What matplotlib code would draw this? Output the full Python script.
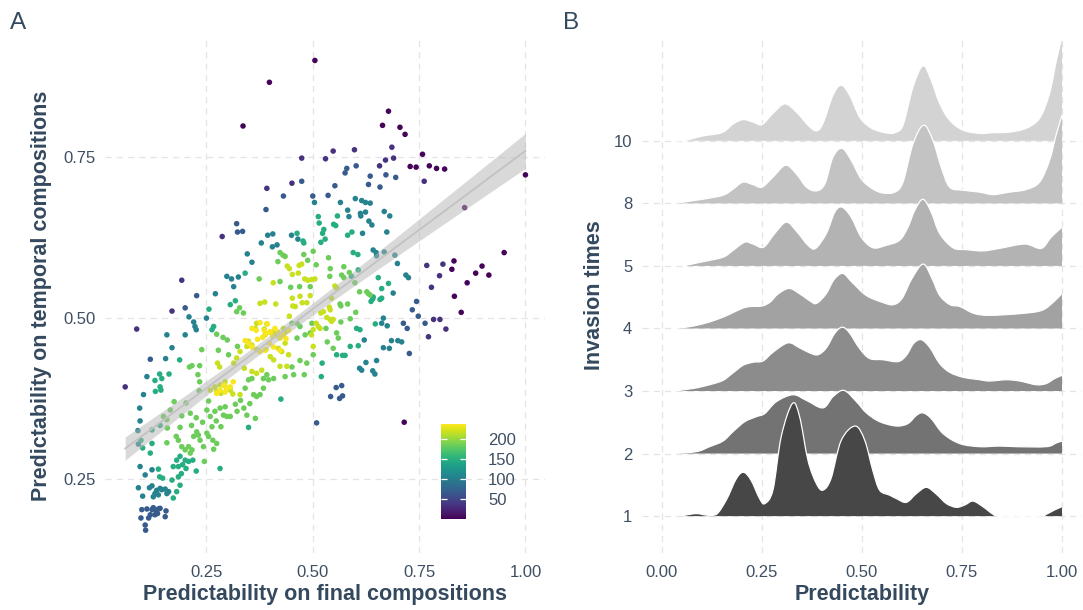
import numpy as np
import matplotlib.pyplot as plt
from matplotlib.colors import Normalize
from matplotlib.cm import ScalarMappable
from matplotlib.path import Path
from matplotlib.patches import PathPatch

plt.rcParams['font.family'] = ['Liberation Sans', 'DejaVu Sans']

TITLE_C = '#34495e'
TICK_C = '#3f4f63'
GRID_C = '#e4e4e4'

# ---------------- panel A data: points grouped by their colour value ----------------
pts_purple = [(.398, .867), (.336, .799), (.505, .901), (.678, .822), (.664, .800), (.705, .797),
              (.717, .786), (.758, .755), (.729, .736), (.743, .735), (.774, .737), (.791, .733),
              (.810, .732), (.857, .672), (.950, .602), (1.0, .723), (.832, .589), (.827, .576),
              (.863, .555), (.883, .570), (.898, .581), (.914, .567), (.833, .534), (.849, .509),
              (.715, .338)]
pts_indigo = [(.474, .749), (.392, .702), (.451, .710), (.287, .627), (.192, .559), (.686, .766),
              (.548, .760), (.598, .762), (.530, .748), (.671, .746), (.690, .749), (.657, .737),
              (.762, .713), (.768, .582), (.806, .584), (.798, .566), (.779, .548), (.784, .498),
              (.799, .498), (.813, .483), (.772, .471), (.169, .511), (.086, .483), (.059, .393)]
pts_blue = [(.474, .713), (.431, .690), (.390, .669), (.321, .647), (.323, .634), (.335, .635),
            (.602, .737), (.580, .733), (.576, .726), (.635, .721), (.672, .723), (.695, .719),
            (.552, .706), (.631, .708), (.658, .704), (.500, .690), (.536, .691), (.744, .526),
            (.734, .513), (.748, .503), (.764, .492), (.713, .492), (.722, .484), (.727, .445),
            (.555, .392), (.568, .395), (.542, .378), (.563, .375), (.570, .379), (.509, .337),
            (.227, .535), (.200, .516), (.118, .436), (.098, .202), (.110, .203), (.122, .202),
            (.125, .205), (.132, .200), (.137, .203), (.141, .204), (.129, .194), (.135, .196),
            (.155, .200), (.153, .191), (.096, .189), (.106, .178), (.114, .189), (.118, .194),
            (.107, .170)]
pts_teal = [(.394, .629), (.406, .631), (.450, .629), (.465, .623), (.379, .617), (.405, .611),
            (.416, .614), (.346, .600), (.357, .587), (.298, .565), (.309, .561), (.325, .564),
            (.504, .680), (.565, .680), (.600, .686), (.615, .683), (.624, .680), (.635, .679),
            (.668, .666), (.681, .659), (.582, .668), (.585, .658), (.612, .663), (.613, .659),
            (.624, .665), (.632, .651), (.639, .645), (.674, .634), (.617, .632), (.642, .606),
            (.649, .602), (.650, .597), (.668, .603), (.693, .598), (.699, .585), (.719, .567),
            (.725, .563), (.689, .539), (.666, .500), (.662, .492), (.675, .488), (.621, .466),
            (.685, .465), (.700, .465), (.709, .463), (.666, .454), (.680, .453), (.650, .434),
            (.625, .431), (.610, .422), (.615, .419), (.641, .418), (.646, .413), (.314, .549),
            (.271, .538), (.209, .502), (.250, .500), (.220, .494), (.223, .487), (.226, .482),
            (.157, .474), (.200, .474), (.169, .454), (.154, .437), (.110, .409), (.102, .381),
            (.093, .360), (.094, .340), (.089, .325), (.090, .304), (.122, .264), (.094, .269),
            (.106, .256), (.090, .236), (.100, .223), (.116, .236), (.122, .239), (.125, .222),
            (.129, .227), (.133, .232), (.137, .225), (.141, .235), (.145, .233), (.153, .234),
            (.157, .227), (.161, .230)]
pts_green = [(.463, .632), (.477, .620), (.479, .617), (.341, .570), (.513, .658), (.515, .648),
             (.558, .659), (.549, .646), (.554, .644), (.526, .638), (.523, .632), (.529, .623),
             (.519, .618), (.592, .634), (.582, .629), (.595, .602), (.606, .599), (.654, .563),
             (.678, .554), (.591, .565), (.607, .575), (.662, .546), (.658, .529), (.662, .531),
             (.637, .526), (.641, .530), (.642, .533), (.647, .491), (.556, .443), (.570, .442),
             (.576, .442), (.588, .456), (.603, .484), (.611, .482), (.607, .457), (.522, .430),
             (.520, .409), (.318, .527), (.306, .521), (.256, .514), (.263, .482), (.267, .487),
             (.187, .435), (.140, .413), (.145, .406), (.162, .413), (.129, .403), (.141, .393),
             (.143, .388), (.130, .386), (.141, .333), (.122, .326), (.349, .330), (.425, .374),
             (.096, .310), (.122, .305), (.100, .298), (.180, .279), (.188, .285), (.200, .279),
             (.208, .277), (.194, .272), (.184, .269), (.172, .269), (.202, .266), (.218, .279),
             (.226, .262), (.282, .266), (.118, .290), (.137, .265), (.140, .253), (.147, .251),
             (.169, .248), (.172, .220), (.180, .230), (.188, .240), (.184, .253), (.191, .258)]
pts_lime = [(.423, .602), (.430, .598), (.435, .596), (.418, .588), (.479, .599), (.488, .590),
            (.374, .561), (.423, .557), (.501, .604), (.537, .594), (.573, .580), (.541, .577),
            (.508, .583), (.540, .565), (.586, .571), (.568, .567), (.573, .563), (.599, .555),
            (.627, .541), (.631, .538), (.635, .536), (.610, .541), (.601, .509), (.588, .499),
            (.582, .522), (.564, .522), (.566, .519), (.566, .494), (.531, .484), (.556, .477),
            (.560, .469), (.534, .463), (.548, .453), (.501, .443), (.448, .548), (.469, .549),
            (.494, .549), (.328, .516), (.337, .508), (.321, .510), (.274, .475), (.289, .470),
            (.299, .466), (.451, .492), (.463, .492), (.470, .487), (.482, .474), (.494, .477),
            (.498, .492), (.323, .456), (.239, .451), (.278, .450), (.302, .443), (.216, .426),
            (.210, .424), (.234, .426), (.463, .469), (.470, .434), (.486, .430), (.451, .424),
            (.392, .412), (.384, .406), (.230, .412), (.234, .401), (.233, .387), (.341, .391),
            (.349, .404), (.357, .406), (.361, .381), (.368, .378), (.376, .381), (.384, .391),
            (.396, .404), (.408, .406), (.435, .409), (.455, .412), (.480, .412), (.174, .370),
            (.165, .357), (.149, .347), (.157, .342), (.158, .329), (.202, .368), (.212, .352),
            (.192, .348), (.188, .330), (.255, .371), (.251, .357), (.259, .347), (.270, .355),
            (.282, .360), (.294, .362), (.290, .349), (.298, .347), (.306, .347), (.284, .331),
            (.263, .331), (.273, .340), (.345, .349), (.365, .344), (.184, .310), (.179, .316),
            (.157, .306), (.192, .300), (.200, .295), (.208, .300), (.216, .295), (.212, .290),
            (.220, .316), (.227, .323), (.231, .318), (.235, .310), (.251, .321), (.255, .316),
            (.265, .310), (.274, .305), (.267, .296), (.243, .300), (.245, .277), (.318, .366),
            (.330, .372), (.338, .360), (.352, .367), (.322, .355), (.241, .338), (.226, .345),
            (.215, .333)]
pts_yellow = [(.440, .581), (.445, .577), (.468, .582), (.474, .584), (.452, .568), (.466, .570),
              (.481, .561), (.488, .559), (.407, .555), (.497, .560), (.505, .561), (.552, .550),
              (.556, .547), (.544, .531), (.539, .517), (.541, .513), (.519, .508), (.525, .510),
              (.533, .501), (.541, .498), (.548, .498), (.544, .495), (.508, .492), (.513, .487),
              (.517, .484), (.501, .482), (.497, .474), (.501, .456), (.387, .525), (.376, .523),
              (.413, .522), (.452, .531), (.470, .534), (.486, .524), (.494, .535), (.453, .519),
              (.475, .524), (.459, .518), (.365, .484), (.368, .492), (.386, .483), (.392, .491),
              (.400, .478), (.408, .479), (.388, .474), (.414, .474), (.423, .469), (.431, .484),
              (.435, .478), (.445, .503), (.349, .464), (.357, .458), (.345, .456), (.329, .448),
              (.321, .438), (.314, .430), (.276, .430), (.281, .424), (.368, .451), (.390, .451),
              (.400, .440), (.408, .435), (.419, .453), (.427, .448), (.435, .461), (.443, .443),
              (.439, .425), (.423, .425), (.339, .422), (.357, .417), (.368, .414), (.380, .419),
              (.259, .388), (.270, .393), (.282, .396), (.292, .395), (.298, .391), (.294, .401),
              (.306, .388), (.312, .382), (.284, .383), (.274, .386), (.329, .381)]
pts_bright = [(.357, .484), (.367, .481), (.376, .493), (.386, .481), (.390, .476), (.393, .491),
              (.400, .479), (.406, .472), (.411, .484), (.418, .478), (.423, .470), (.431, .474),
              (.437, .468), (.443, .481), (.382, .470), (.370, .467), (.398, .461), (.408, .455),
              (.423, .450), (.388, .450), (.376, .448), (.357, .455), (.349, .461), (.341, .465),
              (.290, .396), (.298, .391), (.306, .393), (.282, .388), (.313, .401), (.274, .383),
              (.294, .385)]

group_values = [3, 35, 68, 105, 148, 185, 218, 236]
groups = [pts_purple, pts_indigo, pts_blue, pts_teal, pts_green, pts_lime, pts_yellow, pts_bright]

cbar_ticks = [50, 100, 150, 200]

# ---------------- panel B data: ridge heights ----------------
ridge_labels = ['1', '2', '3', '4', '5', '8', '10']

r1_x = [0.03, 0.0525, 0.086, 0.111, 0.136, 0.161, 0.186, 0.204, 0.2225, 0.244, 0.257, 0.2775, 0.298,
        0.326, 0.344, 0.365, 0.386, 0.4025, 0.4225, 0.448, 0.483, 0.507, 0.527, 0.544, 0.569, 0.586,
        0.611, 0.636, 0.661, 0.686, 0.711, 0.736, 0.7575, 0.7775, 0.8025, 0.8275, 0.844, 0.944,
        0.961, 0.982, 1.0]
r1_h = [0, 0.01, 0.04, 0.016, 0.027, 0.26, 0.60, 0.70, 0.575, 0.28, 0.20, 0.42, 1.27,
        1.80, 1.59, 0.89, 0.52, 0.415, 0.60, 1.21, 1.44, 1.21, 0.73, 0.415, 0.335, 0.28,
        0.22, 0.36, 0.46, 0.35, 0.20, 0.14, 0.18, 0.24, 0.15, 0.03, 0, 0,
        0.03, 0.10, 0.15]
r2_x = [0.0275, 0.086, 0.119, 0.1525, 0.1775, 0.207, 0.236, 0.257, 0.286, 0.3275, 0.361, 0.4025,
        0.4275, 0.455, 0.486, 0.511, 0.544, 0.586, 0.615, 0.636, 0.6525, 0.673, 0.7025, 0.744,
        0.794, 0.844, 0.886, 0.961, 0.986, 1.0]
r2_h = [0, 0.03, 0.11, 0.20, 0.35, 0.51, 0.59, 0.64, 0.83, 0.94, 0.85, 0.73,
        0.91, 1.01, 0.83, 0.65, 0.51, 0.44, 0.48, 0.61, 0.65, 0.56, 0.32, 0.16,
        0.11, 0.12, 0.11, 0.11, 0.17, 0.20]
r3_x = [0.0275, 0.0775, 0.119, 0.1525, 0.1775, 0.2025, 0.2275, 0.2525, 0.2775, 0.315, 0.344, 0.369,
        0.39, 0.411, 0.4317, 0.45, 0.4675, 0.494, 0.519, 0.5525, 0.59, 0.611, 0.629, 0.648,
        0.669, 0.694, 0.719, 0.7525, 0.794, 0.819, 0.861, 0.894, 0.936, 0.961, 0.982, 1.0]
r3_h = [0, 0.04, 0.10, 0.17, 0.29, 0.41, 0.46, 0.48, 0.62, 0.77, 0.69, 0.61,
        0.58, 0.69, 0.92, 1.02, 0.94, 0.68, 0.52, 0.50, 0.47, 0.57, 0.76, 0.82,
        0.70, 0.44, 0.30, 0.22, 0.18, 0.16, 0.18, 0.16, 0.10, 0.12, 0.20, 0.25]
r4_x = [0.03, 0.06, 0.10, 0.14, 0.17, 0.20, 0.22, 0.25, 0.27, 0.29, 0.318, 0.345, 0.37, 0.386,
        0.41, 0.43, 0.452, 0.475, 0.51, 0.55, 0.578, 0.60, 0.625, 0.653, 0.675, 0.694, 0.72,
        0.745, 0.78, 0.82, 0.90, 0.95, 0.98, 1.0]
r4_h = [0, 0.02, 0.07, 0.15, 0.23, 0.32, 0.35, 0.36, 0.42, 0.55, 0.64, 0.55, 0.44, 0.40,
        0.55, 0.78, 0.88, 0.74, 0.53, 0.42, 0.38, 0.48, 0.80, 1.03, 0.80, 0.53, 0.38,
        0.35, 0.24, 0.21, 0.24, 0.29, 0.43, 0.56]
r5_x = [0.0525, 0.10, 0.1525, 0.178, 0.207, 0.2275, 0.254, 0.282, 0.311, 0.338, 0.365, 0.384,
        0.411, 0.432, 0.45, 0.473, 0.498, 0.5275, 0.561, 0.594, 0.615, 0.632, 0.6525, 0.673,
        0.694, 0.7275, 0.761, 0.8025, 0.844, 0.907, 0.948, 0.973, 1.0]
r5_h = [0, 0.064, 0.14, 0.25, 0.38, 0.35, 0.30, 0.52, 0.70, 0.54, 0.33, 0.28,
        0.52, 0.86, 0.94, 0.78, 0.46, 0.29, 0.33, 0.41, 0.62, 0.89, 1.065, 0.86,
        0.52, 0.29, 0.26, 0.24, 0.28, 0.35, 0.28, 0.46, 0.62]
r8_x = [0.03, 0.10, 0.1525, 0.178, 0.2025, 0.2275, 0.25, 0.2775, 0.309, 0.336, 0.361, 0.386,
        0.407, 0.4275, 0.45, 0.473, 0.498, 0.527, 0.5525, 0.582, 0.6025, 0.6275, 0.654, 0.677,
        0.698, 0.719, 0.7525, 0.794, 0.8275, 0.869, 0.91, 0.944, 0.969, 0.986, 1.0]
r8_h = [0, 0.064, 0.13, 0.23, 0.34, 0.30, 0.26, 0.42, 0.61, 0.47, 0.26, 0.20,
        0.31, 0.74, 0.88, 0.69, 0.39, 0.23, 0.165, 0.18, 0.34, 0.95, 1.25, 1.01,
        0.58, 0.26, 0.21, 0.18, 0.14, 0.18, 0.22, 0.34, 0.69, 1.11, 1.41]
r10_x = [0.03, 0.06, 0.10, 0.144, 0.16, 0.178, 0.2025, 0.2275, 0.25, 0.2775, 0.307, 0.336, 0.365,
         0.386, 0.4025, 0.4275, 0.448, 0.469, 0.494, 0.519, 0.544, 0.569, 0.582, 0.6025, 0.6275,
         0.6525, 0.673, 0.694, 0.719, 0.7525, 0.794, 0.8275, 0.869, 0.91, 0.944, 0.969, 0.986, 1.0]
r10_h = [0, 0.01, 0.075, 0.12, 0.17, 0.27, 0.34, 0.30, 0.26, 0.44, 0.59, 0.46, 0.25,
         0.16, 0.28, 0.73, 0.89, 0.73, 0.38, 0.22, 0.15, 0.12, 0.13, 0.25, 0.86,
         1.20, 0.97, 0.60, 0.33, 0.17, 0.12, 0.13, 0.14, 0.20, 0.36, 0.76, 1.29, 1.65]

ridges = [(r1_x, r1_h), (r2_x, r2_h), (r3_x, r3_h), (r4_x, r4_h), (r5_x, r5_h), (r8_x, r8_h), (r10_x, r10_h)]
ridge_fill = ['#474747', '#737373', '#8c8c8c', '#a2a2a2', '#b3b3b3', '#c3c3c3', '#d3d3d3']


def smooth_top(xs, ys, base):
    # bezier path through the read points (catmull-rom style handles)
    verts = [(xs[0], ys[0])]
    codes = [Path.MOVETO]
    n = len(xs)
    for i in range(n - 1):
        i0 = max(i - 1, 0)
        i3 = min(i + 2, n - 1)
        c1 = (xs[i] + (xs[i + 1] - xs[i0]) / 6, max(base, ys[i] + (ys[i + 1] - ys[i0]) / 6))
        c2 = (xs[i + 1] - (xs[i3] - xs[i]) / 6, max(base, ys[i + 1] - (ys[i3] - ys[i]) / 6))
        verts += [c1, c2, (xs[i + 1], ys[i + 1])]
        codes += [Path.CURVE4] * 3
    return verts, codes


# ---------------- figure ----------------
fig = plt.figure(figsize=(10.83, 6.10), dpi=100)
axA = fig.add_axes([105 / 1083, 57 / 610, 440 / 1083, 516 / 610])
axB = fig.add_axes([642 / 1083, 57 / 610, 440 / 1083, 516 / 610])

grid_kw = dict(color=GRID_C, linestyle=(0, (5, 4)), linewidth=0.9)

# panel A
norm = Normalize(1, 238)
all_x, all_y = [], []
for val, pts in zip(group_values, groups):
    xs = [p[0] for p in pts]
    ys = [p[1] for p in pts]
    all_x += xs
    all_y += ys
    axA.scatter(xs, ys, c=[val] * len(xs), cmap='viridis', norm=norm, s=16, linewidths=0, zorder=2)

all_x = np.array(all_x)
all_y = np.array(all_y)
slope, intercept = np.polyfit(all_x, all_y, 1)
xx = np.linspace(all_x.min(), all_x.max(), 100)
fit = intercept + slope * xx
resid = all_y - (intercept + slope * all_x)
n = len(all_x)
s_err = np.sqrt(np.sum(resid ** 2) / (n - 2))
se = s_err * np.sqrt(1 / n + (xx - all_x.mean()) ** 2 / np.sum((all_x - all_x.mean()) ** 2))
axA.fill_between(xx, fit - 1.96 * se, fit + 1.96 * se, color='#b5b5b5', alpha=0.5, lw=0, zorder=3)
axA.plot(xx, fit, color='#c2c2c2', lw=1.3, zorder=4)

axA.set_xlim(0.0115, 1.046)
axA.set_ylim(0.1345, 0.9375)
axA.set_xticks([0.25, 0.5, 0.75, 1.0])
axA.set_xticklabels(['0.25', '0.50', '0.75', '1.00'])
axA.set_yticks([0.25, 0.5, 0.75])
axA.set_yticklabels(['0.25', '0.50', '0.75'])
axA.grid(True, **grid_kw)
axA.set_axisbelow(True)

cax = fig.add_axes([441 / 1083, 91 / 610, 25 / 1083, 95 / 610])
cb = fig.colorbar(ScalarMappable(norm=norm, cmap='viridis'), cax=cax, ticks=cbar_ticks)
cb.outline.set_visible(False)
cax.yaxis.set_ticks_position('both')
cax.tick_params(axis='y', which='both', direction='in', length=4, width=0.9, color='white',
                labelsize=12, labelcolor=TICK_C, pad=16, labelleft=False, labelright=True)

# panel B
for i, (xs, hs) in enumerate(ridges):
    base = i + 1
    top = [base + h for h in hs]
    z = 20 - 2 * i
    verts, codes = smooth_top(xs, top, base)
    line = Path(verts, codes)
    area = Path(verts + [(xs[-1], base), (xs[0], base), (xs[0], top[0])],
                codes + [Path.LINETO, Path.LINETO, Path.CLOSEPOLY])
    axB.add_patch(PathPatch(area, facecolor=ridge_fill[i], edgecolor='none', zorder=z))
    axB.add_patch(PathPatch(line, facecolor='none', edgecolor='white', lw=0.9, zorder=z + 0.5))

axB.set_xlim(-0.05, 1.05)
axB.set_ylim(0.41, 8.66)
axB.set_xticks([0, 0.25, 0.5, 0.75, 1.0])
axB.set_xticklabels(['0.00', '0.25', '0.50', '0.75', '1.00'])
axB.set_yticks(range(1, 8))
axB.set_yticklabels(ridge_labels)
axB.grid(True, **grid_kw)
axB.set_axisbelow(True)

for ax in (axA, axB):
    for sp in ax.spines.values():
        sp.set_visible(False)
    ax.tick_params(length=0, labelsize=12, labelcolor=TICK_C)
    ax.tick_params(axis='x', pad=8.5)
    ax.tick_params(axis='y', pad=7)

fig.text(325 / 1083, 10 / 610, 'Predictability on final compositions', ha='center', va='baseline',
         fontsize=15.5, fontweight='bold', color=TITLE_C)
fig.text(41.5 / 1083, 1 - 295.6 / 610, 'Predictability on temporal compositions', rotation=90,
         ha='center', va='center', fontsize=15.5, fontweight='bold', color=TITLE_C)
fig.text(862 / 1083, 10 / 610, 'Predictability', ha='center', va='baseline',
         fontsize=15.5, fontweight='bold', color=TITLE_C)
fig.text(595 / 1083, 1 - 295 / 610, 'Invasion times', rotation=90, ha='center', va='center',
         fontsize=15.5, fontweight='bold', color=TITLE_C)
fig.text(10 / 1083, 1 - 29 / 610, 'A', fontsize=17.5, color=TITLE_C, va='baseline')
fig.text(563 / 1083, 1 - 29 / 610, 'B', fontsize=17.5, color=TITLE_C, va='baseline')

fig.savefig('out.png', dpi=100)
